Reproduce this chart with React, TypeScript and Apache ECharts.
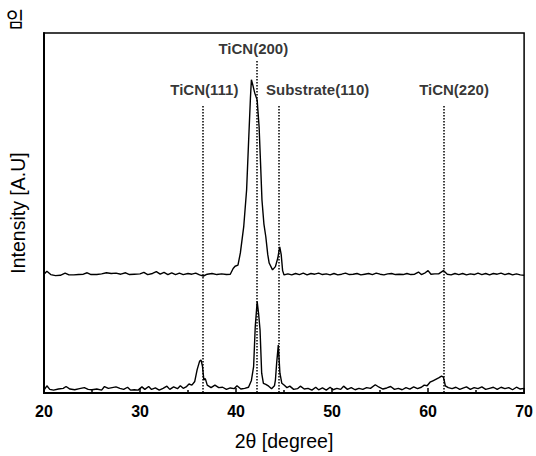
import React, { useEffect, useRef } from "react";
import * as echarts from "echarts";

// 2θ (degree) and intensity (A.U.)
const upperPattern: [number, number][] = [
  [20.0, 33.0], [20.3, 33.8], [20.7, 32.9], [21.2, 32.6], [21.7, 32.7], [22.2, 33.3], [22.6, 32.8],
  [23.1, 32.8], [23.6, 32.9], [24.1, 33.0], [24.5, 33.4], [24.9, 32.9], [25.5, 32.9], [26.0, 33.1],
  [26.5, 33.4], [27.0, 33.2], [27.5, 33.3], [28.0, 33.0], [28.5, 33.4], [28.9, 32.9], [29.4, 33.0],
  [30.0, 33.1], [30.4, 33.5], [30.8, 32.9], [31.3, 33.2], [31.7, 33.7], [32.1, 33.0], [32.5, 33.5],
  [32.9, 32.9], [33.3, 33.4], [33.7, 32.9], [34.1, 33.3], [34.5, 32.9], [35.0, 33.2], [35.4, 33.0],
  [35.8, 33.3], [36.2, 32.8], [36.6, 32.5], [37.0, 33.0], [37.5, 33.2], [38.0, 32.9], [38.5, 33.1],
  [39.0, 32.9], [39.4, 33.0], [39.7, 34.6], [39.9, 35.2], [40.2, 35.5], [40.45, 38.9], [40.8, 46.2],
  [41.1, 56.4], [41.3, 69.4], [41.5, 82.0], [41.6, 87.0], [41.75, 85.5], [41.95, 83.3], [42.2, 81.4],
  [42.4, 74.0], [42.55, 64.0], [42.7, 53.6], [42.9, 47.0], [43.1, 43.4], [43.3, 38.5], [43.45, 36.1],
  [43.8, 34.2], [44.1, 35.1], [44.35, 37.5], [44.55, 40.6], [44.7, 38.5], [44.85, 34.0], [45.0, 32.8],
  [45.4, 33.1], [45.8, 32.8], [46.2, 33.2], [46.6, 32.9], [47.0, 33.3], [47.4, 32.8], [47.8, 33.2],
  [48.2, 33.0], [48.6, 33.3], [49.0, 32.9], [49.4, 33.1], [49.8, 32.8], [50.2, 33.2], [50.6, 32.8],
  [51.0, 33.0], [51.4, 33.3], [51.8, 32.9], [52.2, 33.0], [52.6, 33.2], [53.0, 32.8], [53.4, 33.0],
  [53.8, 33.2], [54.2, 32.9], [54.6, 33.3], [55.0, 33.0], [55.4, 32.8], [55.8, 33.1], [56.2, 33.2],
  [56.6, 32.9], [57.0, 33.0], [57.4, 32.9], [57.8, 33.2], [58.2, 32.9], [58.6, 33.0], [59.0, 33.6],
  [59.3, 32.9], [59.7, 33.4], [60.0, 34.0], [60.3, 33.0], [60.7, 33.1], [61.1, 33.1], [61.6, 34.0],
  [62.0, 33.0], [62.4, 32.8], [62.8, 33.2], [63.2, 32.9], [63.6, 33.2], [64.0, 32.8], [64.4, 33.1],
  [64.8, 32.9], [65.2, 33.3], [65.6, 32.9], [66.0, 33.2], [66.4, 32.8], [66.8, 33.2], [67.2, 33.0],
  [67.6, 33.3], [68.0, 32.9], [68.4, 33.2], [68.8, 32.8], [69.2, 33.1], [69.6, 32.8], [70.0, 32.7],
];

const lowerPattern: [number, number][] = [
  [20.0, 0.8], [20.3, 2.0], [20.6, 1.0], [21.0, 0.8], [21.5, 1.1], [22.0, 1.3], [22.3, 1.8],
  [22.7, 1.1], [23.2, 0.9], [23.7, 1.2], [24.2, 1.5], [24.6, 1.0], [25.0, 0.9], [25.5, 1.1],
  [26.0, 0.8], [26.3, 1.8], [26.7, 1.3], [27.1, 1.5], [27.5, 1.7], [27.9, 1.3], [28.3, 1.0],
  [28.7, 1.6], [29.0, 0.8], [29.4, 0.9], [29.8, 0.8], [30.2, 1.7], [30.5, 1.0], [30.9, 1.8],
  [31.2, 1.0], [31.6, 1.4], [32.0, 0.8], [32.4, 1.3], [32.8, 1.9], [33.1, 1.0], [33.5, 1.7],
  [33.9, 1.2], [34.2, 2.0], [34.5, 1.3], [34.8, 1.7], [35.1, 2.5], [35.4, 2.2], [35.7, 3.2],
  [35.95, 6.5], [36.2, 8.8], [36.35, 9.2], [36.5, 7.5], [36.65, 3.6], [36.8, 4.0], [37.0, 2.2],
  [37.4, 1.5], [37.8, 2.2], [38.2, 1.5], [38.6, 1.6], [39.0, 1.0], [39.4, 1.4], [39.8, 1.2],
  [40.1, 2.0], [40.5, 1.1], [40.9, 1.3], [41.3, 1.6], [41.6, 3.5], [41.83, 7.3], [42.0, 18.4],
  [42.2, 25.4], [42.35, 22.0], [42.5, 17.5], [42.67, 5.5], [42.85, 2.7], [43.1, 2.4], [43.4, 1.9],
  [43.7, 1.2], [44.0, 2.0], [44.1, 3.6], [44.23, 8.3], [44.4, 13.3], [44.57, 5.5], [44.77, 2.7],
  [45.0, 2.2], [45.3, 1.5], [45.6, 1.9], [46.0, 1.0], [46.4, 1.2], [46.7, 1.9], [47.1, 1.1],
  [47.5, 1.3], [47.9, 0.8], [48.3, 1.6], [48.6, 0.9], [49.0, 1.4], [49.4, 0.8], [49.8, 1.6],
  [50.1, 0.9], [50.5, 1.3], [50.9, 1.0], [51.2, 1.9], [51.6, 1.0], [52.0, 1.5], [52.4, 0.9],
  [52.8, 1.3], [53.2, 1.0], [53.6, 1.5], [54.0, 1.3], [54.5, 2.3], [54.9, 1.6], [55.3, 1.1],
  [55.7, 1.4], [56.1, 1.8], [56.5, 1.0], [56.9, 1.3], [57.3, 0.9], [57.7, 1.5], [58.1, 1.1],
  [58.5, 1.7], [58.9, 1.2], [59.3, 1.6], [59.6, 2.2], [59.9, 2.0], [60.2, 3.0], [60.5, 3.4],
  [60.8, 3.8], [61.1, 4.2], [61.4, 4.7], [61.6, 4.4], [61.8, 2.0], [62.1, 1.5], [62.5, 1.2],
  [62.9, 1.6], [63.3, 1.0], [63.7, 1.4], [64.0, 1.7], [64.4, 1.0], [64.8, 1.5], [65.2, 1.2],
  [65.6, 1.7], [66.0, 1.0], [66.4, 1.3], [66.8, 1.6], [67.2, 1.0], [67.6, 1.6], [68.0, 1.2],
  [68.4, 1.5], [68.8, 0.9], [69.2, 1.6], [69.6, 1.1], [70.0, 1.3],
];

// reference peak positions (2θ) and dotted line top (A.U.)
const peakNames = ["TiCN(111)", "TiCN(200)", "Substrate(110)", "TiCN(220)"];
const peakPositions = [36.5, 42.2, 44.5, 61.6];
const peakLineTops = [79.7, 92.2, 79.7, 79.7];
// label anchor positions
const labelX = [36.7, 41.8, 48.5, 62.7];
const labelY = [84.3, 95.6, 84.3, 84.3];

const xTicks = { min: 20, max: 70, interval: 10 };

export default function App() {
  const ref = useRef<HTMLDivElement>(null);
  useEffect(() => {
    if (!ref.current) return;
    const chart = echarts.init(ref.current, null, { renderer: "svg" });
    const font = "'Liberation Sans', Arial, sans-serif";
    chart.setOption({
      animation: false,
      backgroundColor: "#fff",
      grid: {
        left: 41,
        right: 8,
        top: 33,
        bottom: 62.5,
        show: true,
        borderColor: "#000",
        borderWidth: 1.5,
      },
      xAxis: {
        type: "value",
        min: xTicks.min,
        max: xTicks.max,
        interval: xTicks.interval,
        name: "2θ [degree]",
        nameLocation: "middle",
        nameGap: 38,
        nameTextStyle: { fontFamily: font, fontSize: 19.5, color: "#000" },
        axisLine: { show: true, onZero: false, lineStyle: { color: "#000", width: 2 } },
        axisTick: { show: true, inside: true, length: 5, lineStyle: { color: "#000", width: 1.5 } },
        minorTick: { show: true, splitNumber: 2, length: 3, lineStyle: { color: "#000", width: 1.5 } },
        axisLabel: { fontFamily: font, fontSize: 16, fontWeight: "bold", color: "#000", margin: 10 },
        splitLine: { show: false },
      },
      yAxis: {
        type: "value",
        min: 0,
        max: 100,
        name: "Intensity [A.U]",
        nameLocation: "middle",
        nameGap: 16,
        nameTextStyle: { fontFamily: font, fontSize: 19.5, color: "#000" },
        axisLine: { show: true, lineStyle: { color: "#000", width: 2 } },
        axisTick: { show: false },
        axisLabel: { show: false },
        splitLine: { show: false },
      },
      graphic: [
        {
          type: "text",
          left: 6,
          top: 8,
          style: {
            text: "임",
            fontFamily: "'Noto Sans CJK KR', sans-serif",
            fontSize: 20,
            fill: "#000",
          },
        },
      ],
      series: [
        {
          type: "line",
          data: upperPattern,
          showSymbol: false,
          symbol: "none",
          lineStyle: { color: "#000", width: 1.4 },
          markLine: {
            silent: true,
            symbol: "none",
            label: { show: false },
            lineStyle: { color: "#000", type: "dotted", width: 1.5 },
            data: peakPositions.map((p, i) => [
              { coord: [p, peakLineTops[i]] },
              { coord: [p, 0] },
            ]),
          },
        },
        {
          type: "line",
          data: lowerPattern,
          showSymbol: false,
          symbol: "none",
          lineStyle: { color: "#000", width: 1.4 },
        },
        {
          type: "scatter",
          symbolSize: 0,
          data: peakNames.map((n, i) => ({ value: [labelX[i], labelY[i]], name: n })),
          label: {
            show: true,
            position: "inside",
            formatter: (p: any) => p.name,
            fontFamily: font,
            fontSize: 15,
            fontWeight: "bold",
            color: "#000",
          },
        },
      ],
    });
    return () => chart.dispose();
  }, []);
  return (
    <div
      ref={ref}
      style={{ position: "fixed", left: 0, top: 0, width: 536, height: 456 }}
    />
  );
}
